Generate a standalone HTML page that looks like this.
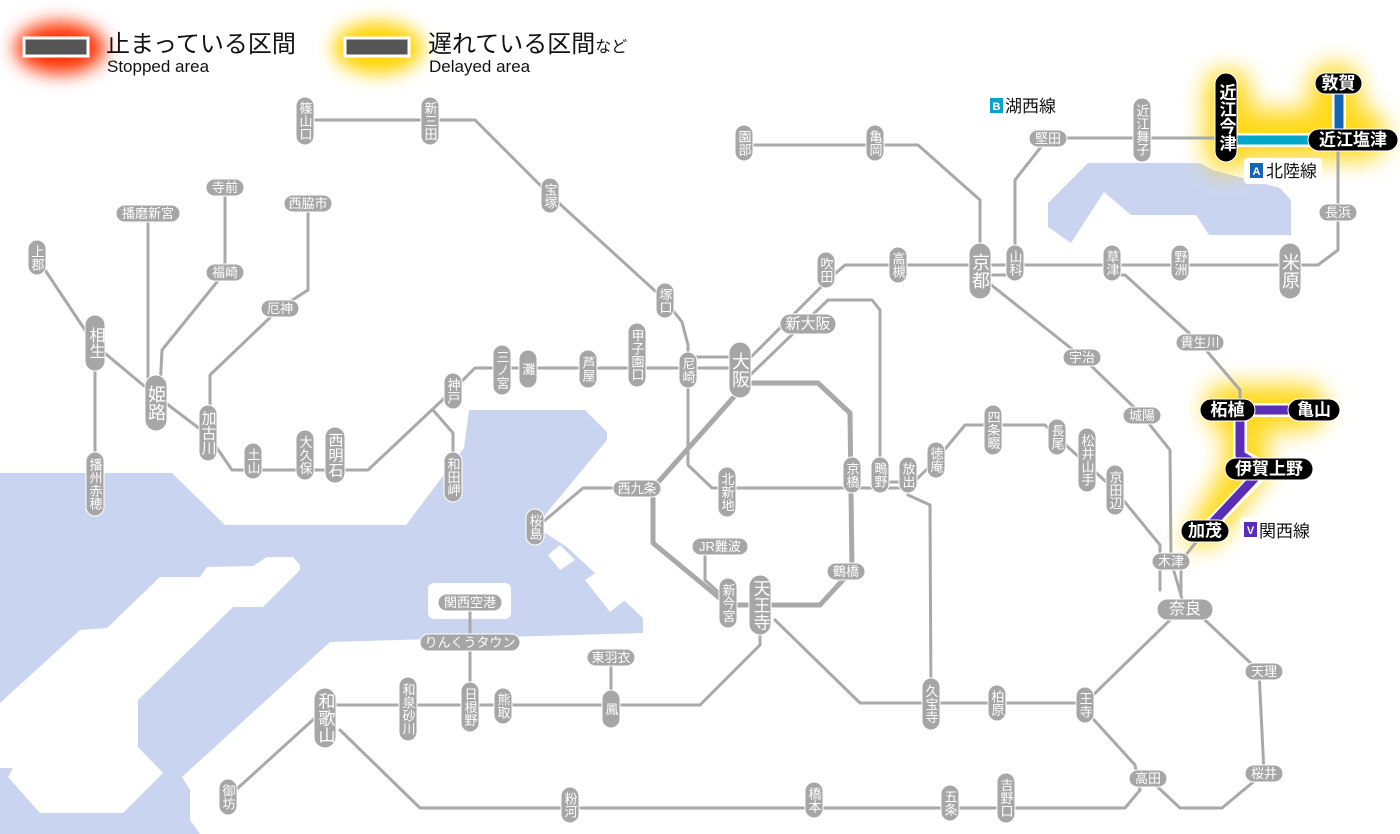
<!DOCTYPE html>
<html><head><meta charset="utf-8"><style>
html,body{margin:0;padding:0;background:#fff;}
svg{display:block;font-family:"Liberation Sans","Noto Sans CJK JP",sans-serif;}
.ln{fill:none;stroke:#a9a9a9;stroke-width:3;stroke-linejoin:round;stroke-linecap:round}
.lp{fill:none;stroke:#a9a9a9;stroke-width:5;stroke-linejoin:round}
.st rect{fill:#a6a6a6;stroke:#fff;stroke-width:1}
.st text{fill:#fff;font-size:13px;text-anchor:middle;dominant-baseline:central}
.st text.v{writing-mode:vertical-rl;}
.bk rect{fill:#000;stroke:#fff;stroke-width:1}
.bk text{fill:#fff;font-size:17px;font-weight:bold;text-anchor:middle;dominant-baseline:central}
.bk text.v{writing-mode:vertical-rl;}
</style></head><body>
<svg width="1400" height="834" viewBox="0 0 1400 834" xmlns="http://www.w3.org/2000/svg">
<defs>
<filter id="bl" x="-50%" y="-50%" width="200%" height="200%"><feGaussianBlur stdDeviation="9"/></filter>
<filter id="bl2" x="-50%" y="-50%" width="200%" height="200%"><feGaussianBlur stdDeviation="12"/></filter>
</defs>
<!-- water -->
<g fill="#c9d5f0">
<polygon points="0,473 172,473 225,525 406,525 464,448 469,410 585,410 607,432 607,440 549,510 536,527 567,547 643,618 643,633 330,642 182,777 190,790 190,820 200,834 0,834"/>
<polygon points="1088,163 1200,163 1213,170 1280,188 1291,200 1291,235 1209,235 1196,215 1131,215 1104,192 1071,243 1048,227 1048,203"/>
</g>
<g fill="#fff">
<polygon points="300,565 293,557 267,557 253,566 207,567 200,577 160,577 107,628 80,630 0,703 0,768 13,768 8,777 40,813 123,813 163,773 138,747 138,700 233,607 263,607 300,570"/>
<rect x="428" y="583" width="83" height="36" rx="6"/>
<polygon points="548,555 560,545 575,560 560,570"/>
<polygon points="585,580 600,570 625,600 610,612"/>
</g>
<!-- glows -->
<ellipse cx="60" cy="48" rx="45" ry="26" fill="#ff3000" filter="url(#bl)"/>
<ellipse cx="378" cy="48" rx="45" ry="26" fill="#ffd400" filter="url(#bl)"/>
<g fill="#ffd400" filter="url(#bl2)" opacity="0.9">
<rect x="1205" y="70" width="45" height="100" rx="20"/>
<rect x="1215" y="110" width="170" height="50" rx="20"/>
<rect x="1310" y="65" width="50" height="80" rx="20"/>
<rect x="1205" y="385" width="120" height="45" rx="20"/>
<polygon points="1225,400 1260,400 1270,470 1215,545 1180,545 1225,465"/>
</g>
<!-- legend -->
<rect x="24" y="38" width="64" height="18" fill="#555" stroke="#fff" stroke-width="3"/>
<rect x="345" y="38" width="64" height="18" fill="#555" stroke="#fff" stroke-width="3"/>
<text x="106" y="52" font-size="24" fill="#111">止まっている区間</text>
<text x="107" y="72" font-size="17" fill="#111">Stopped area</text>
<text x="428" y="52" font-size="24" fill="#111">遅れている区間<tspan font-size="16">など</tspan></text>
<text x="429" y="72" font-size="17" fill="#111">Delayed area</text>
<!-- lines -->
<g class="ln">
<polyline points="305,120 475,120 550,195 665,300 682,322 688,345 688,465 712,488 908,488"/>
<polyline points="37,258 95,345 155,395 208,435 232,470 368,470 453,390"/>
<polyline points="95,345 95,483"/>
<polyline points="148,213 148,395"/>
<polyline points="225,187 225,272 162,350 160,390"/>
<polyline points="308,203 308,290 280,308 210,375 210,430"/>
<polyline points="433,410 453,433 453,480"/>
<polyline points="453,390 475,368 740,368"/>
<polyline points="688,357 740,357"/>
<polyline points="740,368 828,280 845,265 1318,265 1338,250 1338,85"/>
<polyline points="745,380 828,300 872,300 880,310 880,488"/>
<polyline points="980,275 980,200 918,145 744,145"/>
<polyline points="980,275 1015,275"/>
<polyline points="1015,268 1015,180 1048,138 1225,138"/>
<polyline points="985,280 1082,357 1142,415 1170,450 1171,561 1185,609"/>
<polyline points="1112,275 1125,275 1200,343 1240,390 1240,410"/>
<polyline points="1181,561 1181,595"/>
<polyline points="1205,531 1181,561"/>
<polyline points="908,488 936,460 965,425 1045,425 1057,437 1115,490 1160,545 1160,590"/>
<polyline points="908,495 930,505 931,705"/>
<polyline points="880,482 908,482"/>
<polyline points="617,488 583,488 543,522"/>
<polyline points="705,550 705,580 725,598"/>
<polyline points="760,610 760,645 700,705 325,705"/>
<polyline points="775,620 860,703 1085,703 1170,620"/>
<polyline points="1205,620 1259,671 1264,773 1222,808 1180,808 1148,778"/>
<polyline points="1085,710 1135,765 1140,790 1125,808 420,808 340,730"/>
<polyline points="315,718 228,797"/>
<polyline points="470,602 470,700"/>
<polyline points="611,657 611,710"/>
<polyline points="1338,140 1338,250"/>
</g>
<polyline class="lp" points="745,383 818,383 850,413 852,570 820,605 728,605 653,543 653,488 740,390"/>
<!-- colored lines -->
<line x1="1230" y1="140" x2="1320" y2="140" stroke="#fff" stroke-width="14"/>
<line x1="1230" y1="140" x2="1320" y2="140" stroke="#00a7c9" stroke-width="9"/>
<line x1="1339" y1="85" x2="1339" y2="135" stroke="#fff" stroke-width="14"/>
<line x1="1339" y1="85" x2="1339" y2="135" stroke="#1565b5" stroke-width="9"/>
<polyline points="1228,410 1315,410" stroke="#fff" stroke-width="14" fill="none"/>
<polyline points="1240,410 1240,455 1265,469 1205,531" stroke="#fff" stroke-width="14" fill="none" stroke-linejoin="round"/>
<polyline points="1228,410 1315,410" stroke="#5a2db8" stroke-width="9" fill="none"/>
<polyline points="1240,410 1240,455 1263,469 1205,531" stroke="#5a2db8" stroke-width="9" fill="none" stroke-linejoin="round"/>
<!-- line labels -->
<rect x="984" y="92" width="85" height="26" rx="4" fill="#fff"/>
<rect x="990" y="98" width="13" height="15" fill="#0aa2c8"/><text x="996.5" y="110" font-size="11" fill="#fff" text-anchor="middle" font-weight="bold">B</text>
<text x="1005" y="112" font-size="17" fill="#111">湖西線</text>
<rect x="1244" y="158" width="78" height="26" rx="4" fill="#fff"/>
<rect x="1250" y="163" width="13" height="15" fill="#1565b5"/><text x="1256.5" y="175" font-size="11" fill="#fff" text-anchor="middle" font-weight="bold">A</text>
<text x="1266" y="177" font-size="17" fill="#111">北陸線</text>
<rect x="1240" y="517" width="78" height="26" rx="4" fill="#fff"/>
<rect x="1244" y="522" width="13" height="15" fill="#5a2db8"/><text x="1250.5" y="534" font-size="11" fill="#fff" text-anchor="middle" font-weight="bold">V</text>
<text x="1259" y="537" font-size="17" fill="#111">関西線</text>
<!-- vertical stations -->
<g class="st">
<rect x="296" y="97" width="18" height="48" rx="9"/><text class="v" x="305" y="121">篠山口</text>
<rect x="421" y="97" width="18" height="48" rx="9"/><text class="v" x="430" y="121">新三田</text>
<rect x="541" y="178" width="18" height="35" rx="9"/><text class="v" x="550" y="196">宝塚</text>
<rect x="656" y="283" width="18" height="35" rx="9"/><text class="v" x="665" y="301">塚口</text>
<rect x="28" y="240" width="18" height="35" rx="9"/><text class="v" x="37" y="258">上郡</text>
<rect x="85" y="315" width="20" height="56" rx="10"/><text class="v" x="95" y="343" style="font-size:16px">相生</text>
<rect x="145" y="375" width="22" height="56" rx="11"/><text class="v" x="156" y="403" style="font-size:18px">姫路</text>
<rect x="199" y="405" width="18" height="56" rx="9"/><text class="v" x="208" y="433" style="font-size:15px">加古川</text>
<rect x="244" y="443" width="18" height="36" rx="9"/><text class="v" x="253" y="461">土山</text>
<rect x="296" y="430" width="18" height="50" rx="9"/><text class="v" x="305" y="455">大久保</text>
<rect x="325" y="427" width="20" height="56" rx="10"/><text class="v" x="335" y="455" style="font-size:15px">西明石</text>
<rect x="444" y="373" width="18" height="36" rx="9"/><text class="v" x="453" y="391">神戸</text>
<rect x="444" y="452" width="18" height="50" rx="9"/><text class="v" x="453" y="477">和田岬</text>
<rect x="86" y="452" width="18" height="64" rx="9"/><text class="v" x="95" y="484">播州赤穂</text>
<rect x="493" y="345" width="18" height="50" rx="9"/><text class="v" x="502" y="370">三ノ宮</text>
<rect x="519" y="350" width="18" height="38" rx="9"/><text class="v" x="528" y="369">灘</text>
<rect x="579" y="350" width="18" height="38" rx="9"/><text class="v" x="588" y="369">芦屋</text>
<rect x="628" y="323" width="18" height="64" rx="9"/><text class="v" x="637" y="355">甲子園口</text>
<rect x="679" y="352" width="18" height="36" rx="9"/><text class="v" x="688" y="370">尼崎</text>
<rect x="729" y="342" width="22" height="56" rx="11"/><text class="v" x="740" y="370" style="font-size:18px">大阪</text>
<rect x="817" y="252" width="18" height="36" rx="9"/><text class="v" x="826" y="270">吹田</text>
<rect x="889" y="247" width="18" height="36" rx="9"/><text class="v" x="898" y="265">高槻</text>
<rect x="969" y="243" width="22" height="56" rx="11"/><text class="v" x="980" y="271" style="font-size:18px">京都</text>
<rect x="1006" y="245" width="18" height="36" rx="9"/><text class="v" x="1015" y="263">山科</text>
<rect x="1103" y="245" width="18" height="36" rx="9"/><text class="v" x="1112" y="263">草津</text>
<rect x="1171" y="245" width="18" height="36" rx="9"/><text class="v" x="1180" y="263">野洲</text>
<rect x="1279" y="243" width="22" height="56" rx="11"/><text class="v" x="1290" y="271" style="font-size:18px">米原</text>
<rect x="735" y="125" width="18" height="36" rx="9"/><text class="v" x="744" y="143">園部</text>
<rect x="866" y="125" width="18" height="36" rx="9"/><text class="v" x="875" y="143">亀岡</text>
<rect x="1133" y="98" width="18" height="64" rx="9"/><text class="v" x="1142" y="130">近江舞子</text>
<rect x="843" y="457" width="18" height="36" rx="9"/><text class="v" x="852" y="475">京橋</text>
<rect x="871" y="457" width="18" height="36" rx="9"/><text class="v" x="880" y="475">鴫野</text>
<rect x="899" y="457" width="18" height="36" rx="9"/><text class="v" x="908" y="475">放出</text>
<rect x="927" y="442" width="18" height="36" rx="9"/><text class="v" x="936" y="460">徳庵</text>
<rect x="984" y="405" width="18" height="50" rx="9"/><text class="v" x="993" y="430">四条畷</text>
<rect x="1048" y="419" width="18" height="36" rx="9"/><text class="v" x="1057" y="437">長尾</text>
<rect x="1078" y="428" width="18" height="64" rx="9"/><text class="v" x="1087" y="460">松井山手</text>
<rect x="1106" y="465" width="18" height="50" rx="9"/><text class="v" x="1115" y="490">京田辺</text>
<rect x="718" y="467" width="18" height="50" rx="9"/><text class="v" x="727" y="492">北新地</text>
<rect x="526" y="509" width="18" height="36" rx="9"/><text class="v" x="535" y="527">桜島</text>
<rect x="719" y="578" width="18" height="50" rx="9"/><text class="v" x="728" y="603">新今宮</text>
<rect x="749" y="575" width="22" height="60" rx="11"/><text class="v" x="760" y="605" style="font-size:17px">天王寺</text>
<rect x="922" y="678" width="18" height="52" rx="9"/><text class="v" x="931" y="704">久宝寺</text>
<rect x="988" y="685" width="18" height="36" rx="9"/><text class="v" x="997" y="703">柏原</text>
<rect x="1076" y="687" width="18" height="36" rx="9"/><text class="v" x="1085" y="705">王寺</text>
<rect x="399" y="677" width="18" height="64" rx="9"/><text class="v" x="408" y="709">和泉砂川</text>
<rect x="314" y="688" width="22" height="60" rx="11"/><text class="v" x="325" y="718" style="font-size:17px">和歌山</text>
<rect x="461" y="682" width="18" height="50" rx="9"/><text class="v" x="470" y="707">日根野</text>
<rect x="494" y="688" width="18" height="36" rx="9"/><text class="v" x="503" y="706">熊取</text>
<rect x="602" y="690" width="18" height="38" rx="9"/><text class="v" x="611" y="709">鳳</text>
<rect x="219" y="779" width="18" height="36" rx="9"/><text class="v" x="228" y="797">御坊</text>
<rect x="561" y="787" width="18" height="36" rx="9"/><text class="v" x="570" y="805">粉河</text>
<rect x="805" y="782" width="18" height="36" rx="9"/><text class="v" x="814" y="800">橋本</text>
<rect x="941" y="785" width="18" height="36" rx="9"/><text class="v" x="950" y="803">五条</text>
<rect x="997" y="773" width="18" height="50" rx="9"/><text class="v" x="1006" y="798">吉野口</text>
</g>
<!-- horizontal stations -->
<g class="st">
<rect x="206" y="179" width="38" height="17" rx="8.5"/><text x="225" y="187.5">寺前</text>
<rect x="116" y="205" width="64" height="17" rx="8.5"/><text x="148" y="213.5">播磨新宮</text>
<rect x="284" y="195" width="48" height="17" rx="8.5"/><text x="308" y="203.5">西脇市</text>
<rect x="206" y="264" width="38" height="17" rx="8.5"/><text x="225" y="272.5">福崎</text>
<rect x="261" y="300" width="38" height="17" rx="8.5"/><text x="280" y="308.5">厄神</text>
<rect x="780" y="314" width="56" height="20" rx="10"/><text x="808" y="324" style="font-size:15px">新大阪</text>
<rect x="1029" y="130" width="38" height="17" rx="8.5"/><text x="1048" y="138.5">堅田</text>
<rect x="1319" y="204" width="38" height="17" rx="8.5"/><text x="1338" y="212.5">長浜</text>
<rect x="1063" y="349" width="38" height="17" rx="8.5"/><text x="1082" y="357.5">宇治</text>
<rect x="1123" y="407" width="38" height="17" rx="8.5"/><text x="1142" y="415.5">城陽</text>
<rect x="1176" y="334" width="48" height="17" rx="8.5"/><text x="1200" y="342.5">貴生川</text>
<rect x="1152" y="553" width="38" height="17" rx="8.5"/><text x="1171" y="561.5">木津</text>
<rect x="1157" y="599" width="56" height="21" rx="10.5"/><text x="1185" y="609.5" style="font-size:16px">奈良</text>
<rect x="1245" y="663" width="38" height="17" rx="8.5"/><text x="1264" y="671.5">天理</text>
<rect x="1245" y="765" width="38" height="17" rx="8.5"/><text x="1264" y="773.5">桜井</text>
<rect x="1129" y="770" width="38" height="17" rx="8.5"/><text x="1148" y="778.5">高田</text>
<rect x="827" y="563" width="38" height="17" rx="8.5"/><text x="846" y="571.5">鶴橋</text>
<rect x="692" y="538" width="56" height="17" rx="8.5"/><text x="720" y="546.5">JR難波</text>
<rect x="613" y="480" width="48" height="17" rx="8.5"/><text x="637" y="488.5">西九条</text>
<rect x="438" y="594" width="64" height="17" rx="8.5"/><text x="470" y="602.5">関西空港</text>
<rect x="420" y="634" width="100" height="17" rx="8.5"/><text x="470" y="642.5">りんくうタウン</text>
<rect x="587" y="649" width="48" height="17" rx="8.5"/><text x="611" y="657.5">東羽衣</text>
</g>
<!-- black stations -->
<g class="bk">
<rect x="1215" y="73" width="22" height="89" rx="11"/><text class="v" x="1226" y="117.5">近江今津</text>
<rect x="1315" y="73" width="47" height="21" rx="10.5"/><text x="1338.5" y="83.5">敦賀</text>
<rect x="1308" y="129" width="90" height="22" rx="11"/><text x="1353" y="140">近江塩津</text>
<rect x="1200" y="399" width="55" height="22" rx="11"/><text x="1227.5" y="410">柘植</text>
<rect x="1288" y="399" width="52" height="22" rx="11"/><text x="1314" y="410">亀山</text>
<rect x="1225" y="458" width="88" height="22" rx="11"/><text x="1269" y="469">伊賀上野</text>
<rect x="1181" y="520" width="48" height="22" rx="11"/><text x="1205" y="531">加茂</text>
</g>
</svg>
</body></html>
